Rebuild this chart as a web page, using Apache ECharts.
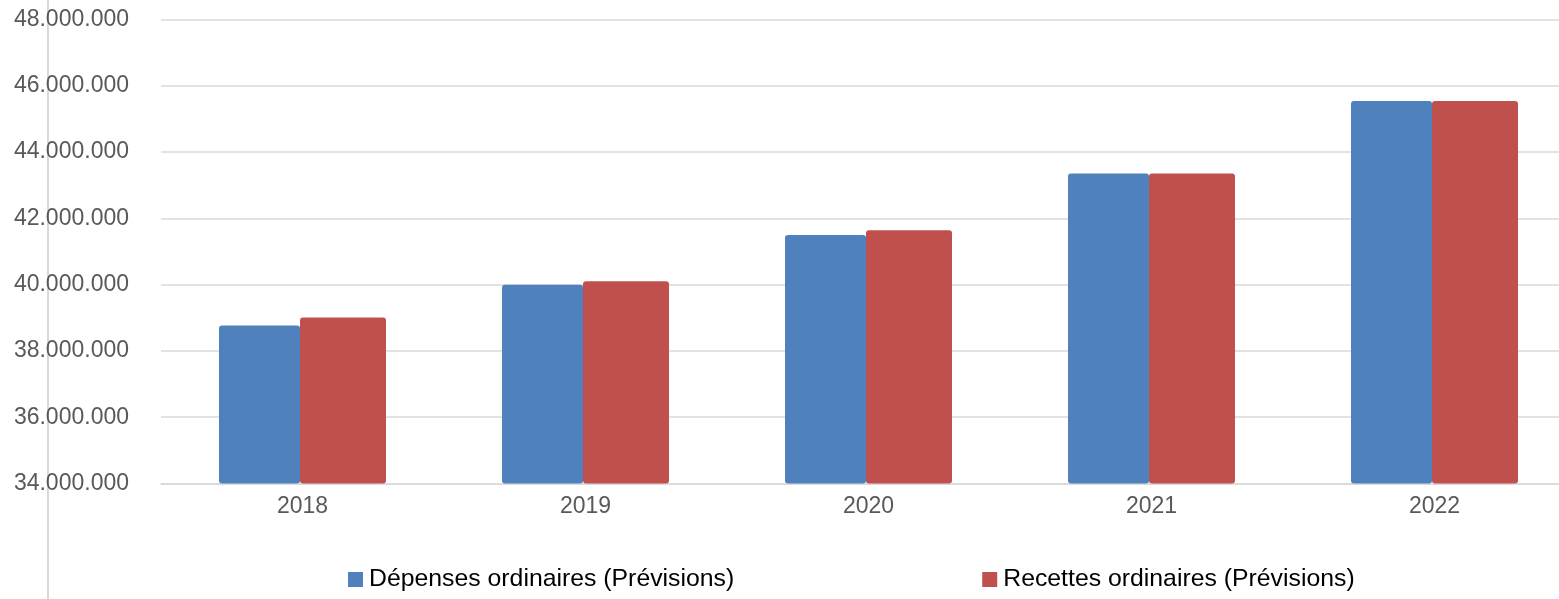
<!DOCTYPE html>
<html>
<head>
<meta charset="utf-8">
<script src="https://cdn.jsdelivr.net/npm/echarts@6/dist/echarts.min.js"></script>
<style>
html,body{margin:0;padding:0;background:#fff;}
#chart{width:1559px;height:599px;}
</style>
</head>
<body>
<div id="chart"></div>
<script>
const categories = ['2018', '2019', '2020', '2021', '2022'];
const depenses = [38770000, 40000000, 41500000, 43350000, 45540000];
const recettes = [39010000, 40100000, 41640000, 43350000, 45540000];
const seriesNames = ['Dépenses ordinaires (Prévisions)', 'Recettes ordinaires (Prévisions)'];
const yMin = 34000000, yMax = 48000000, yStep = 2000000;

function fmt(v) {
  return String(Math.round(v)).replace(/\B(?=(\d{3})+(?!\d))/g, '.');
}

const chart = echarts.init(document.getElementById('chart'), null, { renderer: 'canvas' });
chart.setOption({
  animation: false,
  backgroundColor: '#ffffff',
  textStyle: { fontFamily: 'Liberation Sans, Arial, sans-serif' },
  grid: { left: 161, right: -17, top: 19.5, bottom: 115.5, containLabel: false, outerBoundsMode: 'none' },
  graphic: [{
    type: 'line',
    z: -1,
    shape: { x1: 48, y1: 0, x2: 48, y2: 599 },
    style: { stroke: '#d9d9d9', lineWidth: 2 }
  }],
  legend: {
    left: 348,
    top: 567,
    padding: 0,
    itemWidth: 15,
    itemHeight: 15,
    itemGap: 248,
    icon: 'rect',
    textStyle: { fontSize: 24.8, color: '#000000', padding: [0, 0, 0, 1] },
    data: seriesNames
  },
  xAxis: {
    type: 'category',
    data: categories,
    axisLine: { show: true, lineStyle: { color: '#d9d9d9', width: 1.5 } },
    axisTick: { show: false },
    axisLabel: { fontSize: 23, color: '#595959', margin: 12 }
  },
  yAxis: {
    type: 'value',
    min: yMin,
    max: yMax,
    interval: yStep,
    axisLine: { show: false },
    axisTick: { show: false },
    splitLine: { lineStyle: { color: '#d9d9d9', width: 1.5 } },
    axisLabel: { fontSize: 23, color: '#595959', margin: 32, formatter: fmt }
  },
  series: [
    {
      name: seriesNames[0],
      type: 'bar',
      data: depenses,
      barWidth: 81,
      barGap: '0%',
      itemStyle: { color: '#4f81bd', borderRadius: 3 }
    },
    {
      name: seriesNames[1],
      type: 'bar',
      data: recettes,
      barWidth: 86,
      barGap: '0%',
      itemStyle: { color: '#c0504d', borderRadius: 3 }
    }
  ]
});
</script>
</body>
</html>
